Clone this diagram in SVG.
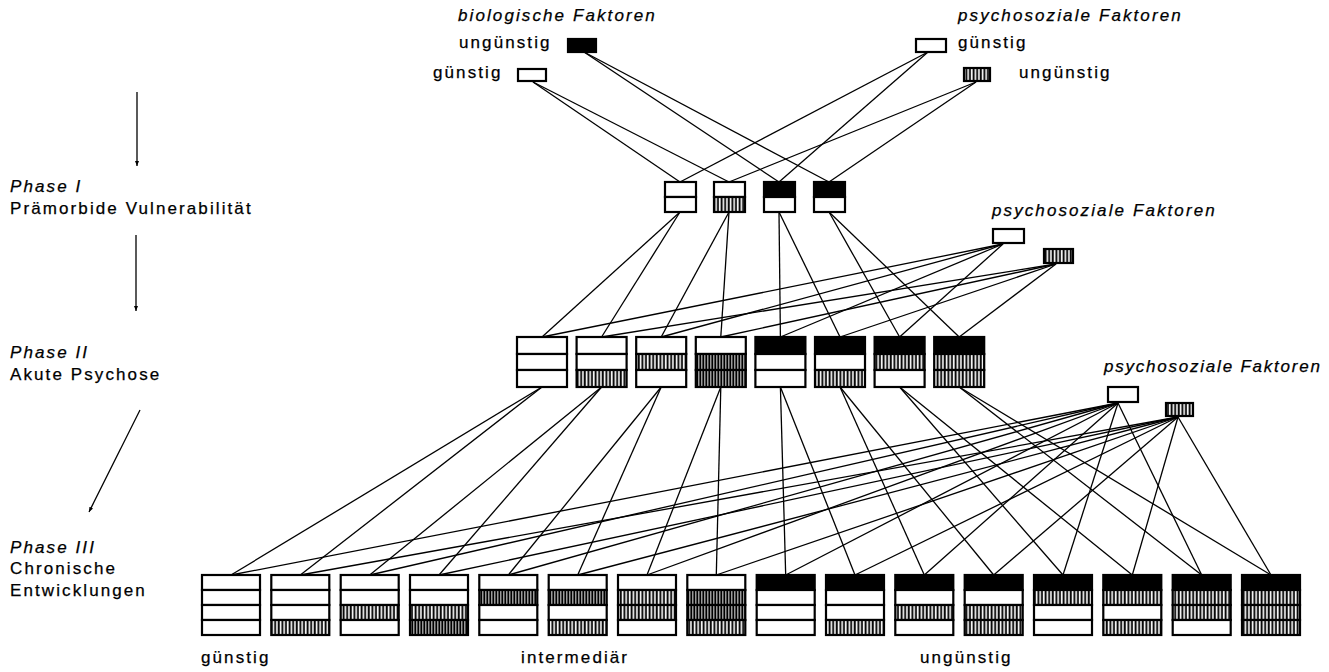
<svg xmlns="http://www.w3.org/2000/svg" width="1329" height="672" viewBox="0 0 1329 672">
<style>
.t{font-family:"Liberation Sans",Arial,sans-serif;font-size:17px;letter-spacing:2.1px;fill:#000;stroke:#000;stroke-width:0.25}
.i{font-style:italic}
.w{fill:#fff;stroke:#000;stroke-width:2.2}
.b{fill:#000;stroke:#000;stroke-width:2.2}
.h{fill:url(#hatch);stroke:#000;stroke-width:2.2}
.hd{fill:url(#hatchd);stroke:#000;stroke-width:2.2}
.c line{stroke:#000;stroke-width:1.3;fill:none}
.ax{stroke:#000;stroke-width:1.3;fill:none}
</style>
<defs>
<pattern id="hatch" patternUnits="userSpaceOnUse" width="3.6" height="6">
<rect width="3.6" height="6" fill="#fff"/>
<rect x="0.6" width="1.9" height="6" fill="#000"/>
</pattern>
<pattern id="hatchd" patternUnits="userSpaceOnUse" width="3" height="6">
<rect width="3" height="6" fill="#fff"/>
<rect x="0.3" width="2.1" height="6" fill="#000"/>
</pattern>
<marker id="ah" markerWidth="6" markerHeight="6" refX="5" refY="3" orient="auto" markerUnits="userSpaceOnUse">
<path d="M0,1 L5,3 L0,5 z" fill="#000"/>
</marker>
</defs>
<rect width="1329" height="672" fill="#fff"/>

<g id="phase-labels">
<text class="t i" x="10" y="192">Phase I</text>
<text class="t" x="10" y="214">Prämorbide Vulnerabilität</text>
<text class="t i" x="10" y="358">Phase II</text>
<text class="t" x="10" y="380">Akute Psychose</text>
<text class="t i" x="10" y="553">Phase III</text>
<text class="t" x="10" y="574">Chronische</text>
<text class="t" x="10" y="596">Entwicklungen</text>
<line class="ax" x1="137" y1="92" x2="137" y2="166" marker-end="url(#ah)"/>
<line class="ax" x1="136" y1="235" x2="136" y2="311" marker-end="url(#ah)"/>
<line class="ax" x1="140" y1="410" x2="89" y2="512" marker-end="url(#ah)"/>
</g>

<g class="c" id="connectors">
<line x1="533" y1="82" x2="680" y2="182"/>
<line x1="533" y1="82" x2="729" y2="182"/>
<line x1="584" y1="52" x2="779" y2="182"/>
<line x1="584" y1="52" x2="829" y2="182"/>
<line x1="928" y1="52" x2="680" y2="182"/>
<line x1="928" y1="52" x2="779" y2="182"/>
<line x1="976" y1="82" x2="729" y2="182"/>
<line x1="976" y1="82" x2="829" y2="182"/>

<line x1="680" y1="212" x2="542" y2="337"/>
<line x1="680" y1="212" x2="601.6" y2="337"/>
<line x1="729" y1="212" x2="661.2" y2="337"/>
<line x1="729" y1="212" x2="720.8" y2="337"/>
<line x1="779" y1="212" x2="780.4" y2="337"/>
<line x1="779" y1="212" x2="840" y2="337"/>
<line x1="829" y1="212" x2="899.6" y2="337"/>
<line x1="829" y1="212" x2="959.2" y2="337"/>

<line x1="1003" y1="244" x2="542" y2="337"/>
<line x1="1003" y1="244" x2="661.2" y2="337"/>
<line x1="1003" y1="244" x2="780.4" y2="337"/>
<line x1="1003" y1="244" x2="899.6" y2="337"/>
<line x1="1056" y1="264" x2="601.6" y2="337"/>
<line x1="1056" y1="264" x2="720.8" y2="337"/>
<line x1="1056" y1="264" x2="840" y2="337"/>
<line x1="1056" y1="264" x2="959.2" y2="337"/>

<line x1="542" y1="387" x2="231" y2="575"/>
<line x1="542" y1="387" x2="300.3" y2="575"/>
<line x1="601.6" y1="387" x2="369.7" y2="575"/>
<line x1="601.6" y1="387" x2="439" y2="575"/>
<line x1="661.2" y1="387" x2="508.3" y2="575"/>
<line x1="661.2" y1="387" x2="577.7" y2="575"/>
<line x1="720.8" y1="387" x2="647" y2="575"/>
<line x1="720.8" y1="387" x2="716.3" y2="575"/>
<line x1="780.4" y1="387" x2="785.7" y2="575"/>
<line x1="780.4" y1="387" x2="855" y2="575"/>
<line x1="840" y1="387" x2="924.3" y2="575"/>
<line x1="840" y1="387" x2="993.7" y2="575"/>
<line x1="899.6" y1="387" x2="1063" y2="575"/>
<line x1="899.6" y1="387" x2="1132.3" y2="575"/>
<line x1="959.2" y1="387" x2="1201.7" y2="575"/>
<line x1="959.2" y1="387" x2="1271" y2="575"/>

<line x1="1118" y1="403" x2="231" y2="575"/>
<line x1="1118" y1="403" x2="369.7" y2="575"/>
<line x1="1118" y1="403" x2="508.3" y2="575"/>
<line x1="1118" y1="403" x2="647" y2="575"/>
<line x1="1118" y1="403" x2="785.7" y2="575"/>
<line x1="1118" y1="403" x2="924.3" y2="575"/>
<line x1="1118" y1="403" x2="1063" y2="575"/>
<line x1="1118" y1="403" x2="1201.7" y2="575"/>
<line x1="1178" y1="417" x2="300.3" y2="575"/>
<line x1="1178" y1="417" x2="439" y2="575"/>
<line x1="1178" y1="417" x2="577.7" y2="575"/>
<line x1="1178" y1="417" x2="716.3" y2="575"/>
<line x1="1178" y1="417" x2="855" y2="575"/>
<line x1="1178" y1="417" x2="993.7" y2="575"/>
<line x1="1178" y1="417" x2="1132.3" y2="575"/>
<line x1="1178" y1="417" x2="1271" y2="575"/>
</g>

<g id="bio-factors">
<text class="t i" x="458" y="21">biologische Faktoren</text>
<text class="t" x="459" y="48">ungünstig</text>
<rect class="b" x="568" y="39" width="28" height="13"/>
<text class="t" x="433" y="78">günstig</text>
<rect class="w" x="518" y="69" width="28" height="12"/>
</g>
<g id="psy-factors-1">
<text class="t i" x="958" y="21">psychosoziale Faktoren</text>
<rect class="w" x="916" y="39" width="30" height="13"/>
<text class="t" x="958" y="48">günstig</text>
<rect class="h" x="964" y="68" width="26" height="13"/>
<text class="t" x="1019" y="78">ungünstig</text>
</g>

<g id="p1-1"><rect class="w" x="665" y="182" width="31" height="15"/><rect class="w" x="665" y="197" width="31" height="15"/></g>
<g id="p1-2"><rect class="w" x="714" y="182" width="31" height="15"/><rect class="h" x="714" y="197" width="31" height="15"/></g>
<g id="p1-3"><rect class="b" x="764" y="182" width="31" height="15"/><rect class="w" x="764" y="197" width="31" height="15"/></g>
<g id="p1-4"><rect class="b" x="814" y="182" width="31" height="15"/><rect class="w" x="814" y="197" width="31" height="15"/></g>

<g id="psy-factors-2">
<text class="t i" x="992" y="216">psychosoziale Faktoren</text>
<rect class="w" x="993" y="229" width="31" height="14"/>
<rect class="h" x="1044" y="249" width="29" height="14"/>
</g>

<g id="p2-1"><rect class="w" x="517" y="337" width="50" height="17"/><rect class="w" x="517" y="354" width="50" height="16"/><rect class="w" x="517" y="370" width="50" height="17"/></g>
<g id="p2-2"><rect class="w" x="576.6" y="337" width="50" height="17"/><rect class="w" x="576.6" y="354" width="50" height="16"/><rect class="h" x="576.6" y="370" width="50" height="17"/></g>
<g id="p2-3"><rect class="w" x="636.2" y="337" width="50" height="17"/><rect class="h" x="636.2" y="354" width="50" height="16"/><rect class="w" x="636.2" y="370" width="50" height="17"/></g>
<g id="p2-4"><rect class="w" x="695.8" y="337" width="50" height="17"/><rect class="hd" x="695.8" y="354" width="50" height="16"/><rect class="hd" x="695.8" y="370" width="50" height="17"/></g>
<g id="p2-5"><rect class="b" x="755.4" y="337" width="50" height="17"/><rect class="w" x="755.4" y="354" width="50" height="16"/><rect class="w" x="755.4" y="370" width="50" height="17"/></g>
<g id="p2-6"><rect class="b" x="815" y="337" width="50" height="17"/><rect class="w" x="815" y="354" width="50" height="16"/><rect class="h" x="815" y="370" width="50" height="17"/></g>
<g id="p2-7"><rect class="b" x="874.6" y="337" width="50" height="17"/><rect class="h" x="874.6" y="354" width="50" height="16"/><rect class="w" x="874.6" y="370" width="50" height="17"/></g>
<g id="p2-8"><rect class="b" x="934.2" y="337" width="50" height="17"/><rect class="h" x="934.2" y="354" width="50" height="16"/><rect class="h" x="934.2" y="370" width="50" height="17"/></g>

<g id="psy-factors-3">
<text class="t i" x="1104" y="372" textLength="218" lengthAdjust="spacing">psychosoziale Faktoren</text>
<rect class="w" x="1108" y="387" width="30" height="15"/>
<rect class="h" x="1166" y="403" width="27" height="13"/>
</g>

<g id="p3-1"><rect class="w" x="202" y="575" width="58" height="15"/><rect class="w" x="202" y="590" width="58" height="15"/><rect class="w" x="202" y="605" width="58" height="15"/><rect class="w" x="202" y="620" width="58" height="15"/></g>
<g id="p3-2"><rect class="w" x="271.3" y="575" width="58" height="15"/><rect class="w" x="271.3" y="590" width="58" height="15"/><rect class="w" x="271.3" y="605" width="58" height="15"/><rect class="h" x="271.3" y="620" width="58" height="15"/></g>
<g id="p3-3"><rect class="w" x="340.7" y="575" width="58" height="15"/><rect class="w" x="340.7" y="590" width="58" height="15"/><rect class="h" x="340.7" y="605" width="58" height="15"/><rect class="w" x="340.7" y="620" width="58" height="15"/></g>
<g id="p3-4"><rect class="w" x="410" y="575" width="58" height="15"/><rect class="w" x="410" y="590" width="58" height="15"/><rect class="h" x="410" y="605" width="58" height="15"/><rect class="hd" x="410" y="620" width="58" height="15"/></g>
<g id="p3-5"><rect class="w" x="479.3" y="575" width="58" height="15"/><rect class="hd" x="479.3" y="590" width="58" height="15"/><rect class="w" x="479.3" y="605" width="58" height="15"/><rect class="w" x="479.3" y="620" width="58" height="15"/></g>
<g id="p3-6"><rect class="w" x="548.7" y="575" width="58" height="15"/><rect class="hd" x="548.7" y="590" width="58" height="15"/><rect class="w" x="548.7" y="605" width="58" height="15"/><rect class="h" x="548.7" y="620" width="58" height="15"/></g>
<g id="p3-7"><rect class="w" x="618" y="575" width="58" height="15"/><rect class="h" x="618" y="590" width="58" height="15"/><rect class="h" x="618" y="605" width="58" height="15"/><rect class="w" x="618" y="620" width="58" height="15"/></g>
<g id="p3-8"><rect class="w" x="687.3" y="575" width="58" height="15"/><rect class="hd" x="687.3" y="590" width="58" height="15"/><rect class="hd" x="687.3" y="605" width="58" height="15"/><rect class="h" x="687.3" y="620" width="58" height="15"/></g>
<g id="p3-9"><rect class="b" x="756.7" y="575" width="58" height="15"/><rect class="w" x="756.7" y="590" width="58" height="15"/><rect class="w" x="756.7" y="605" width="58" height="15"/><rect class="w" x="756.7" y="620" width="58" height="15"/></g>
<g id="p3-10"><rect class="b" x="826" y="575" width="58" height="15"/><rect class="w" x="826" y="590" width="58" height="15"/><rect class="w" x="826" y="605" width="58" height="15"/><rect class="h" x="826" y="620" width="58" height="15"/></g>
<g id="p3-11"><rect class="b" x="895.3" y="575" width="58" height="15"/><rect class="w" x="895.3" y="590" width="58" height="15"/><rect class="h" x="895.3" y="605" width="58" height="15"/><rect class="w" x="895.3" y="620" width="58" height="15"/></g>
<g id="p3-12"><rect class="b" x="964.7" y="575" width="58" height="15"/><rect class="w" x="964.7" y="590" width="58" height="15"/><rect class="h" x="964.7" y="605" width="58" height="15"/><rect class="h" x="964.7" y="620" width="58" height="15"/></g>
<g id="p3-13"><rect class="b" x="1034" y="575" width="58" height="15"/><rect class="h" x="1034" y="590" width="58" height="15"/><rect class="w" x="1034" y="605" width="58" height="15"/><rect class="w" x="1034" y="620" width="58" height="15"/></g>
<g id="p3-14"><rect class="b" x="1103.3" y="575" width="58" height="15"/><rect class="h" x="1103.3" y="590" width="58" height="15"/><rect class="w" x="1103.3" y="605" width="58" height="15"/><rect class="h" x="1103.3" y="620" width="58" height="15"/></g>
<g id="p3-15"><rect class="b" x="1172.7" y="575" width="58" height="15"/><rect class="h" x="1172.7" y="590" width="58" height="15"/><rect class="h" x="1172.7" y="605" width="58" height="15"/><rect class="w" x="1172.7" y="620" width="58" height="15"/></g>
<g id="p3-16"><rect class="b" x="1242" y="575" width="58" height="15"/><rect class="h" x="1242" y="590" width="58" height="15"/><rect class="h" x="1242" y="605" width="58" height="15"/><rect class="h" x="1242" y="620" width="58" height="15"/></g>

<g id="outcome-labels">
<text class="t" x="201" y="663">günstig</text>
<text class="t" x="521" y="663">intermediär</text>
<text class="t" x="920" y="663">ungünstig</text>
</g>
</svg>
